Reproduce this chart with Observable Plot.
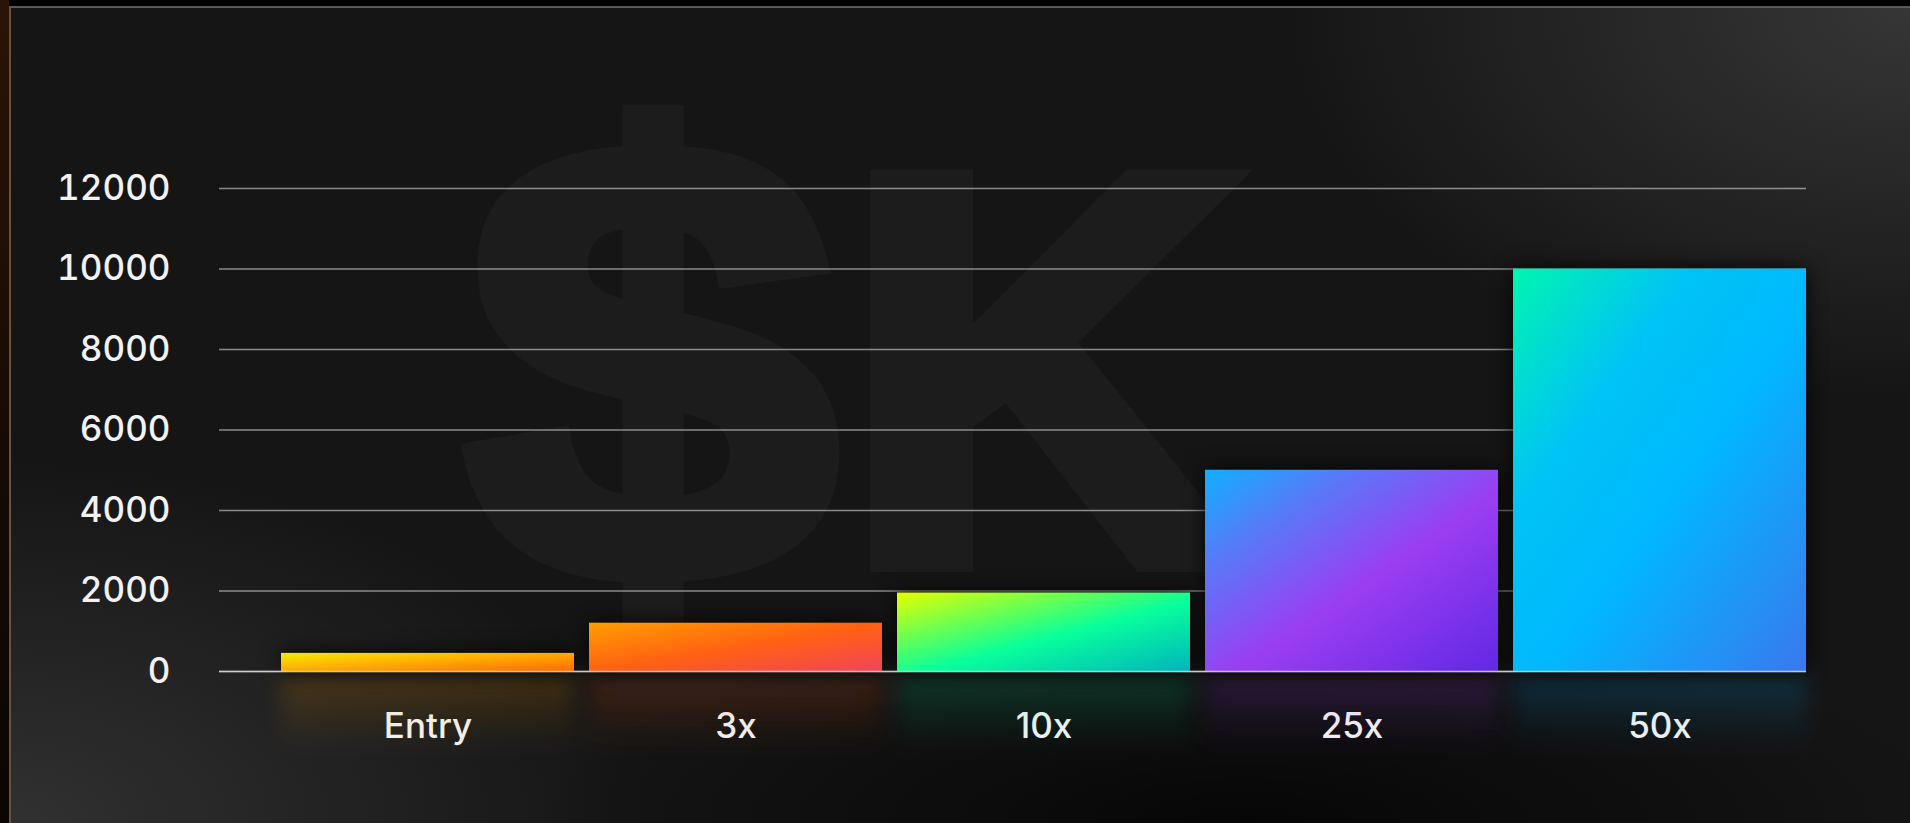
<!DOCTYPE html>
<html>
<head>
<meta charset="utf-8">
<script src="https://cdn.jsdelivr.net/npm/d3@7"></script>
<script src="https://cdn.jsdelivr.net/npm/@observablehq/plot@0.6"></script>
<style>
  html, body { margin: 0; padding: 0; }
  body {
    width: 1910px; height: 823px; overflow: hidden; position: relative;
    background: #000;
  }
  #frame {
    position: absolute; left: 9px; top: 6px; right: 0; bottom: 0;
    background:
      radial-gradient(ellipse 900px 520px at 0% 100%, rgba(58,58,58,0.75), rgba(58,58,58,0) 70%),
      radial-gradient(ellipse 900px 560px at 100% 0%, rgba(62,62,62,0.8), rgba(62,62,62,0) 70%),
      radial-gradient(ellipse 900px 260px at 65% 100%, rgba(0,0,0,0.7), rgba(0,0,0,0) 80%),
      #151515;
    border-top: 2px solid #5a5a5a;
    border-left: 2px solid #6a5240;
  }
  #leftedge {
    position: absolute; left: 0; top: 0; width: 9px; bottom: 0;
    background: linear-gradient(180deg, #2a1406, #140a04 60%, #0a0604);
  }
  #wm { position: absolute; left: 0; top: 0; }
  #chart { position: absolute; left: 0; top: 0; }
</style>
</head>
<body>
<div id="leftedge"></div>
<div id="frame"></div>
<svg id="wm" width="1910" height="823">
  <g opacity="0.028" fill="#fff" stroke="#fff" stroke-width="24" stroke-linejoin="miter"
     font-family="Liberation Sans, Arial, sans-serif" font-weight="700">
    <text x="467" y="577" font-size="620" transform="translate(467,0) scale(1.07,1) translate(-467,0)">$</text>
    <text x="845" y="560" font-size="550">K</text>
  </g>
</svg>
<svg width="0" height="0" style="position:absolute">
  <defs id="gdefs"></defs>
</svg>
<div id="chart"></div>
<script>
// ---- data ----
const categories = ["Entry", "3x", "10x", "25x", "50x"];
const values = [450, 1200, 1950, 5000, 10000];
const yTicks = [0, 2000, 4000, 6000, 8000, 10000, 12000];

// ---- styles (gradient stops per bar, top-left -> bottom-right) ----
const barGradients = [
  [[0, "#f4ec06"], [0.45, "#ffb000"], [1, "#ff6a00"]],
  [[0, "#ff9e00"], [0.5, "#ff6212"], [1, "#f0445a"]],
  [[0, "#e6ff00"], [0.3, "#6cff52"], [0.55, "#08ff9c"], [1, "#00b4bc"]],
  [[0, "#10b0ff"], [0.25, "#5a78f8"], [0.55, "#9b3ef2"], [1, "#6228e4"]],
  [[0, "#00f5b0"], [0.3, "#00c4f4"], [0.55, "#00b8ff"], [1, "#3a78ee"]]
];
const glowColors = ["#ff9a00", "#ff5a20", "#00d890", "#9a3ef0", "#1aa8ff"];

// gradients
const defs = d3.select("#gdefs");
barGradients.forEach((stops, i) => {
  const g = defs.append("linearGradient").attr("id", "bar-g" + i)
    .attr("x1", 0).attr("y1", 0).attr("x2", 1).attr("y2", 1);
  stops.forEach(([o, c]) => g.append("stop").attr("offset", o).attr("stop-color", c));
  const r = defs.append("linearGradient").attr("id", "glow-g" + i)
    .attr("x1", 0).attr("y1", 0).attr("x2", 0).attr("y2", 1);
  r.append("stop").attr("offset", 0).attr("stop-color", glowColors[i]).attr("stop-opacity", 0.2);
  r.append("stop").attr("offset", 0.5).attr("stop-color", glowColors[i]).attr("stop-opacity", 0.08);
  r.append("stop").attr("offset", 1).attr("stop-color", glowColors[i]).attr("stop-opacity", 0);
});
defs.append("filter").attr("id", "glowblur").attr("x", "-20%").attr("y", "-50%").attr("width", "140%").attr("height", "200%")
  .append("feGaussianBlur").attr("stdDeviation", 10);

const data = categories.map((c, i) => ({category: c, value: values[i], fill: `url(#bar-g${i})`}));

const chart = Plot.plot({
  width: 1910,
  height: 823,
  marginLeft: 219,
  marginRight: 104,
  marginTop: 188,
  marginBottom: 152,
  style: {
    background: "transparent",
    color: "#f2f2f2",
    fontFamily: "Inter, 'Open Sans', 'Noto Sans', sans-serif",
    fontSize: "35px",
    fontWeight: 500
  },
  x: {domain: categories, align: 1, paddingInner: 0.05, paddingOuter: 0.1, label: null, tickSize: 0, tickPadding: 42},
  y: {domain: [0, 12000], ticks: yTicks, label: null, tickSize: 0, tickPadding: 49, tickFormat: d3.format("d")},
  color: {type: "identity"},
  marks: [
    Plot.gridY(yTicks, {stroke: "#d8d8d8", strokeOpacity: 0.6, strokeWidth: 1.5}),
    Plot.barY(data, {x: "category", y: "value", fill: "fill"}),
    Plot.ruleY([0], {stroke: "#e0e0e0", strokeOpacity: 0.8, strokeWidth: 1.5})
  ]
});
document.getElementById("chart").appendChild(chart);

// dark halo around bars + colored glow below the baseline, derived from rendered bars
const svg = d3.select(chart);
const barG = svg.select('g[aria-label="bar"]');
barG.attr("style", "filter: drop-shadow(0 0 10px rgba(0,0,0,0.85))");
const glowG = svg.insert("g", 'g[aria-label="bar"]').attr("filter", "url(#glowblur)");
barG.selectAll("rect").each(function(_, i) {
  const r = d3.select(this);
  const x = +r.attr("x"), w = +r.attr("width"), y = +r.attr("y"), h = +r.attr("height");
  glowG.append("rect").attr("x", x).attr("width", w)
    .attr("y", y + h + 2).attr("height", 80)
    .attr("fill", `url(#glow-g${i})`);
});
</script>
</body>
</html>
